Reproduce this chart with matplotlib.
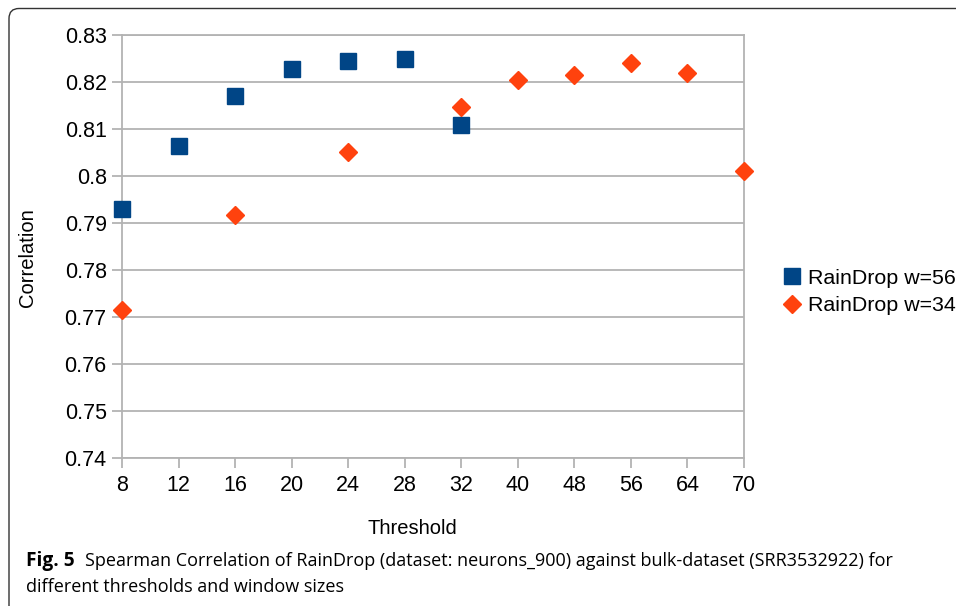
import matplotlib.pyplot as plt
import numpy as np
from matplotlib.patches import FancyBboxPatch

# Data
thresholds = ['8', '12', '16', '20', '24', '28', '32', '40', '48', '56', '64', '70']
w56 = [0.7930, 0.8064, 0.8170, 0.8228, 0.8245, 0.8249, 0.8109,
       np.nan, np.nan, np.nan, np.nan, np.nan]
w34 = [0.7715, np.nan, 0.7918, np.nan, 0.8051, np.nan, 0.8147,
       0.8204, 0.8215, 0.8240, 0.8219, 0.8011]

grid_c = '#b3b3b3'
plt.rcParams['font.family'] = ['Liberation Sans', 'DejaVu Sans']

fig = plt.figure(figsize=(9.56, 6.06), dpi=100)
ax = fig.add_axes([122 / 956, 1 - 458 / 606, (744 - 122) / 956, (458 - 35) / 606])

x = np.arange(len(thresholds))
ax.plot(x, w56, linestyle='none', marker='s', markersize=12, color='#004586',
        label='RainDrop w=56', clip_on=False, zorder=3)
ax.plot(x, w34, linestyle='none', marker='D', markersize=8.8, color='#ff420e',
        label='RainDrop w=34', clip_on=False, zorder=3)

ax.set_xlim(0, len(thresholds) - 1)
ax.set_ylim(0.74, 0.83)
ax.set_xticks(x)
ax.set_xticklabels(thresholds)
yt = np.round(np.arange(0.74, 0.8301, 0.01), 2)
ax.set_yticks(yt)
ax.set_yticklabels(['%g' % v for v in yt])
ax.yaxis.grid(True, color=grid_c, linewidth=1.3)
ax.set_axisbelow(True)
for s in ax.spines.values():
    s.set_color(grid_c)
    s.set_linewidth(1.3)
ax.tick_params(axis='both', colors=grid_c, labelcolor='black', labelsize=15.5,
               width=1.3)
ax.tick_params(axis='x', length=7, pad=5)
ax.tick_params(axis='y', length=7, pad=4)

fig.text(412 / 956, 1 - 528 / 606, 'Threshold', fontsize=14.5,
         ha='center', va='center')
fig.text(28 / 956, 1 - 258 / 606, 'Correlation', fontsize=14.5,
         ha='center', va='center', rotation=90)

fig.legend(loc='center left', bbox_to_anchor=(775 / 956, 1 - 292 / 606),
           frameon=False, fontsize=15.4, handlelength=0.8, handletextpad=0.35,
           labelspacing=0.4, borderaxespad=0)

# caption
cap = ['Open Sans', 'DejaVu Sans']
fig.text(26 / 956, 1 - 561 / 606, 'Fig. 5', fontsize=13.8, fontweight='bold',
         family=cap, ha='left', va='center')
fig.text(85 / 956, 1 - 561 / 606,
         'Spearman Correlation of RainDrop (dataset: neurons_900) against '
         'bulk-dataset (SRR3532922) for',
         fontsize=13.0, family=cap, ha='left', va='center')
fig.text(26 / 956, 1 - 587 / 606, 'different thresholds and window sizes',
         fontsize=13.0, family=cap, ha='left', va='center')

# outer frame
frame = FancyBboxPatch((0.09, -0.5), 10, 6.06 - 0.085 + 0.5,
                       boxstyle='round,pad=0,rounding_size=0.1',
                       transform=fig.dpi_scale_trans, fill=False,
                       edgecolor='#333333', linewidth=1.0, clip_on=False)
fig.patches.append(frame)

fig.savefig('out.png', dpi=100)
